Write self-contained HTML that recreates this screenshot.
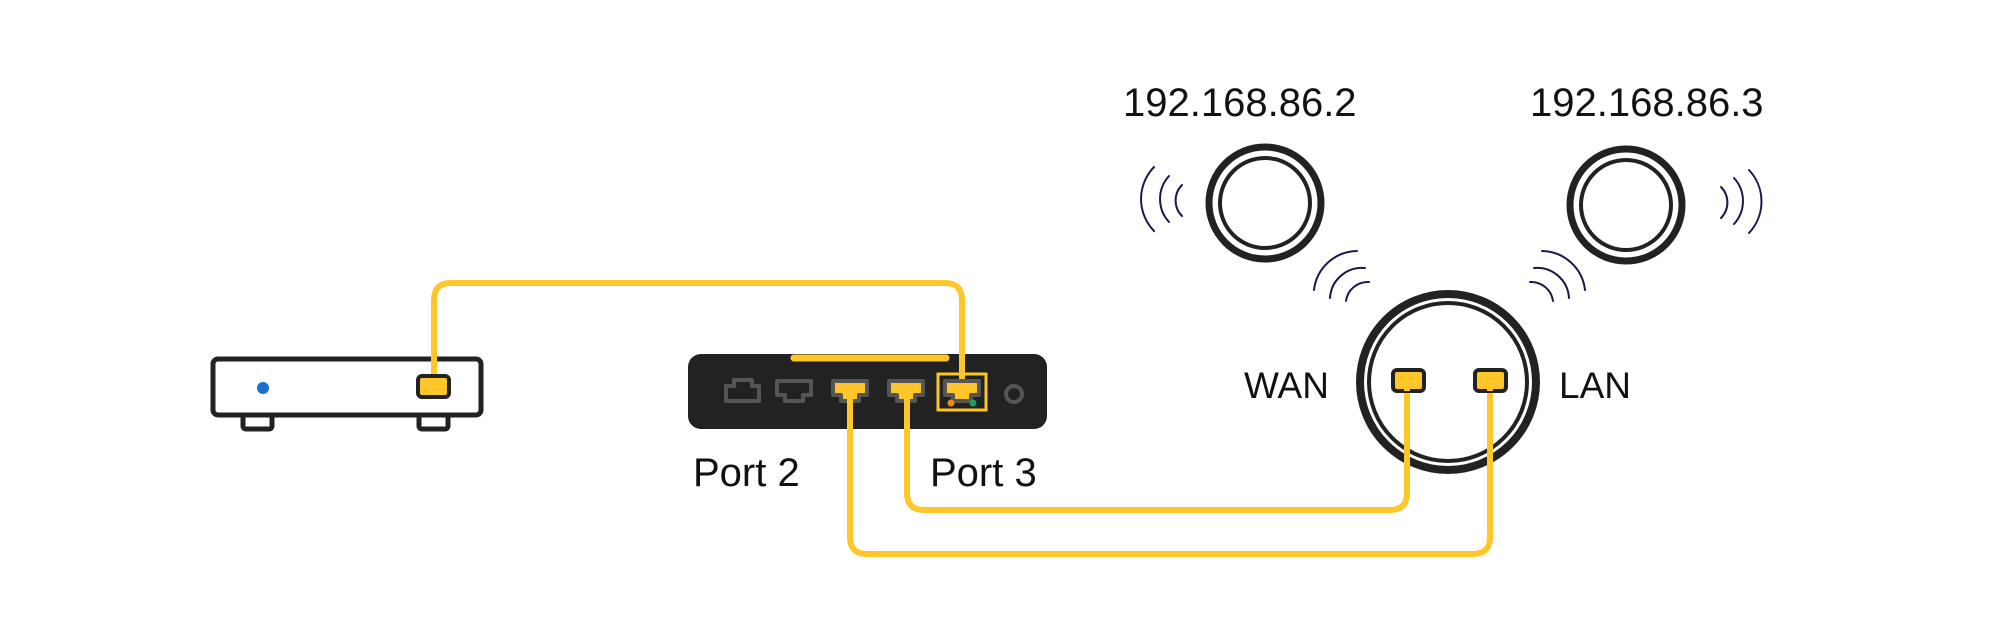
<!DOCTYPE html>
<html><head><meta charset="utf-8"><style>
html,body{margin:0;padding:0;background:#fff;}
svg{display:block;}
text{font-family:"Liberation Sans",sans-serif;fill:#111;}
</style></head><body>
<svg width="2000" height="622" viewBox="0 0 2000 622" xmlns="http://www.w3.org/2000/svg">
<rect width="2000" height="622" fill="#fff"/>
<!-- set-top box -->
<g stroke="#222" stroke-width="5" fill="#fff">
<rect x="243" y="414" width="29" height="15" rx="3"/>
<rect x="419" y="414" width="29" height="15" rx="3"/>
<rect x="213" y="359" width="268" height="56" rx="5"/>
</g>
<circle cx="263" cy="388" r="6" fill="#1a6fd4"/>
<!-- router body -->
<rect x="688" y="354" width="359" height="75" rx="13" fill="#222"/>
<line x1="794" y1="358" x2="946" y2="358" stroke="#FFC629" stroke-width="7" stroke-linecap="round"/>
<!-- central AP -->
<circle cx="1448" cy="382" r="88" fill="none" stroke="#222" stroke-width="8"/>
<circle cx="1448" cy="382" r="79" fill="none" stroke="#222" stroke-width="4"/>
<!-- cables -->
<g fill="none" stroke="#FFC629" stroke-width="6" stroke-linecap="round">
<path d="M434 385 V300 Q434 283 451 283 H945 Q962 283 962 300 V392"/>
<path d="M907 392 V493 Q907 510 924 510 H1390 Q1407 510 1407 493 V381"/>
<path d="M850 392 V537 Q850 554 867 554 H1473 Q1490 554 1490 537 V381"/>
</g>
<!-- ports -->
<rect x="418" y="376" width="31" height="21" rx="4" fill="#FFC629" stroke="#222" stroke-width="4"/>
<path d="M434 385 V378" stroke="#FFC629" stroke-width="6"/>
<g stroke="#555" stroke-width="4" stroke-linejoin="round">
<path d="M726 386 H734 V380 H752 V386 H759 V401 H726 Z" fill="none"/>
<path d="M777 381 H811 V395 H803 V401 H785 V395 H777 Z" fill="none"/>
<path d="M833 381 H867 V395 H859 V401 H841 V395 H833 Z" fill="#FFC629"/>
<path d="M889 381 H923 V395 H915 V401 H897 V395 H889 Z" fill="#FFC629"/>
<path d="M945 381 H979 V395 H971 V401 H953 V395 H945 Z" fill="#FFC629"/>
</g>
<path d="M850 392 V405 M907 392 V405 M962 383 V392" stroke="#FFC629" stroke-width="6"/>
<rect x="938" y="374" width="48" height="36" fill="none" stroke="#FFC629" stroke-width="3"/>
<circle cx="951" cy="403" r="3.5" fill="#f08a1c"/>
<circle cx="973" cy="403" r="3.5" fill="#1aa05a"/>
<circle cx="1014" cy="394" r="8" fill="none" stroke="#555" stroke-width="4"/>
<text x="693" y="486" font-size="40">Port 2</text>
<text x="930" y="486" font-size="40">Port 3</text>
<rect x="1393" y="370" width="31" height="21" rx="4" fill="#FFC629" stroke="#222" stroke-width="4"/>
<rect x="1475" y="370" width="31" height="21" rx="4" fill="#FFC629" stroke="#222" stroke-width="4"/>
<path d="M1407 391 V382 M1490 391 V382" stroke="#FFC629" stroke-width="6"/>
<text x="1244" y="398" font-size="37">WAN</text>
<text x="1559" y="398" font-size="37">LAN</text>
<!-- satellite APs -->
<circle cx="1265" cy="203" r="56" fill="#fff" stroke="#222" stroke-width="7"/>
<circle cx="1265" cy="203" r="45" fill="none" stroke="#222" stroke-width="4"/>
<circle cx="1626" cy="205" r="56" fill="#fff" stroke="#222" stroke-width="7"/>
<circle cx="1626" cy="205" r="45" fill="none" stroke="#222" stroke-width="4"/>
<text x="1123" y="116" font-size="40">192.168.86.2</text>
<text x="1530" y="116" font-size="40">192.168.86.3</text>
<!-- waves -->
<g fill="none" stroke="#1a1a4a" stroke-width="2" stroke-linecap="round">
<path d="M1182 185 A22 22 0 0 0 1182 216"/>
<path d="M1169 176 A34 34 0 0 0 1169 222"/>
<path d="M1154 167 A46 46 0 0 0 1154 231"/>
<path d="M1721 187 A22 22 0 0 1 1721 218"/>
<path d="M1734 178 A34 34 0 0 1 1734 224"/>
<path d="M1749 170 A46 46 0 0 1 1749 233"/>
<path d="M1369 282 A22 22 0 0 0 1346 301"/>
<path d="M1365 268 A32 32 0 0 0 1330 298"/>
<path d="M1357 251 A44 44 0 0 0 1314 290"/>
<path d="M1530 282 A22 22 0 0 1 1553 301"/>
<path d="M1534 268 A32 32 0 0 1 1569 298"/>
<path d="M1542 251 A44 44 0 0 1 1585 290"/>
</g>
</svg>
</body></html>
